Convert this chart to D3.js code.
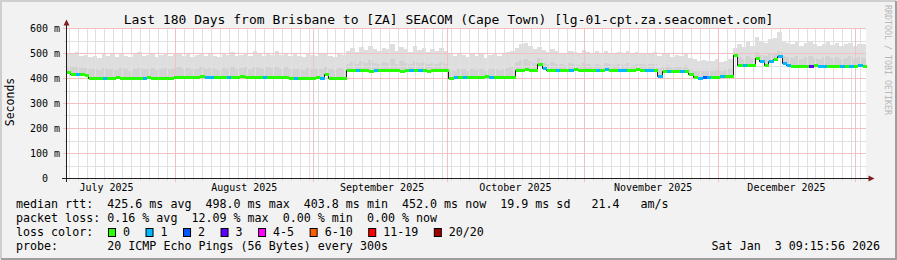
<!DOCTYPE html>
<html lang="en">
<head>
<meta charset="utf-8">
<style>
    body { margin: 0; background: #f2f2f2; overflow: hidden; }
    svg { display: block; }
    text { font-family: "DejaVu Sans Mono", monospace; white-space: pre; }
</style>
</head>
<body>
<svg width="897" height="260"></svg>
<script src="https://cdn.jsdelivr.net/npm/d3@7/dist/d3.min.js"></script>
<script>
    // one sample per day, 180 days (ms)
    const medianRtt = [
        425, 416, 415, 415, 414, 402, 402, 401, 402, 402,
        402, 403, 402, 402, 401, 402, 402, 402, 403, 402,
        402, 402, 401, 402, 406, 406, 405, 406, 406, 406,
        407, 406, 406, 406, 405, 406, 406, 406, 406, 407,
        406, 406, 406, 406, 405, 406, 406, 406, 406, 406,
        402, 402, 401, 402, 402, 402, 403, 402, 418, 402,
        401, 402, 402, 431, 431, 432, 431, 431, 430, 431,
        431, 432, 431, 431, 431, 430, 431, 432, 431, 431,
        431, 430, 431, 432, 431, 431, 400, 404, 405, 405,
        405, 405, 404, 405, 408, 405, 405, 405, 405, 405,
        405, 433, 433, 434, 433, 433, 456, 440, 433, 433,
        433, 432, 433, 433, 434, 433, 433, 432, 433, 433,
        433, 434, 433, 432, 433, 433, 433, 433, 434, 433,
        433, 433, 432, 409, 428, 428, 429, 428, 428, 428,
        415, 404, 402, 403, 403, 405, 406, 409, 409, 409,
        492, 452, 452, 452, 453, 480, 468, 452, 470, 478,
        486, 462, 452, 450, 450, 449, 450, 450, 452, 450,
        450, 449, 450, 450, 450, 449, 450, 450, 451, 450
    ];
    // lost pings out of 20
    const lossCount = [
        0, 0, 1, 0, 0, 0, 0, 0, 1, 0,
        0, 0, 0, 0, 0, 0, 0, 1, 0, 0,
        0, 0, 0, 0, 0, 0, 0, 0, 0, 0,
        0, 1, 1, 0, 0, 0, 1, 0, 0, 0,
        0, 0, 0, 0, 1, 0, 0, 0, 0, 0,
        0, 1, 0, 0, 0, 0, 0, 1, 0, 0,
        0, 0, 0, 0, 0, 1, 0, 0, 0, 1,
        0, 0, 0, 0, 0, 0, 0, 1, 0, 1,
        0, 0, 0, 0, 0, 0, 0, 1, 0, 1,
        0, 0, 0, 0, 0, 1, 0, 0, 0, 0,
        0, 0, 0, 0, 0, 0, 0, 1, 0, 0,
        1, 0, 0, 1, 0, 0, 0, 0, 0, 1,
        0, 1, 0, 0, 1, 1, 0, 0, 0, 0,
        1, 1, 0, 1, 0, 1, 0, 0, 1, 0,
        0, 0, 1, 2, 1, 0, 0, 1, 0, 0,
        0, 0, 1, 0, 0, 0, 1, 0, 1, 0,
        1, 1, 1, 0, 0, 0, 0, 3, 0, 1,
        1, 0, 0, 0, 1, 0, 1, 0, 1, 0
    ];
    // top of the smoke (slowest pings)
    const smokeMax = [
        500, 495, 505, 488, 492, 485, 490, 482, 498, 488,
        495, 485, 500, 490, 483, 495, 505, 488, 492, 498,
        485, 494, 500, 488, 496, 502, 490, 497, 485, 492,
        500, 488, 495, 490, 483, 498, 492, 505, 487, 494,
        500, 490, 508, 496, 488, 502, 494, 510, 492, 500,
        488, 495, 490, 485, 498, 492, 488, 495, 500, 490,
        485, 498, 492, 510, 520, 505, 525, 512, 530, 518,
        508, 522, 515, 535, 510, 525, 518, 505, 528, 512,
        520, 505, 515, 510, 522, 508, 495, 488, 500, 492,
        485, 498, 490, 495, 480, 492, 500, 488, 495, 505,
        510, 520, 535, 540, 528, 515, 525, 512, 505, 518,
        508, 500, 495, 510, 505, 498, 512, 505, 500, 508,
        495, 510, 502, 498, 505, 500, 510, 498, 505, 500,
        495, 500, 505, 490, 495, 500, 485, 492, 488, 498,
        480, 475, 470, 472, 468, 470, 478, 465, 470, 475,
        520, 535, 525, 545, 530, 565, 548, 540, 555, 560,
        585, 550, 540, 535, 545, 530, 540, 548, 535, 530,
        538, 545, 532, 540, 528, 535, 542, 530, 538, 535
    ];
    // top of the dense part of the smoke
    const smokeMid = [
        450, 445, 448, 442, 440, 435, 438, 432, 440, 436,
        438, 432, 440, 435, 430, 437, 442, 434, 436, 440,
        432, 438, 440, 434, 440, 445, 436, 442, 434, 438,
        444, 436, 440, 437, 432, 442, 438, 446, 435, 440,
        444, 438, 448, 440, 436, 445, 440, 450, 438, 444,
        434, 438, 436, 432, 440, 436, 434, 438, 445, 435,
        432, 440, 436, 458, 465, 455, 468, 460, 472, 462,
        456, 466, 460, 475, 458, 468, 462, 455, 470, 460,
        465, 455, 462, 458, 466, 456, 432, 430, 438, 434,
        430, 436, 432, 435, 428, 434, 438, 432, 436, 440,
        445, 465, 472, 478, 468, 462, 480, 462, 458, 465,
        458, 455, 452, 460, 456, 452, 460, 456, 454, 458,
        452, 460, 455, 452, 456, 454, 460, 452, 456, 455,
        452, 455, 458, 440, 450, 452, 445, 448, 446, 452,
        438, 430, 428, 430, 427, 428, 432, 430, 432, 435,
        500, 485, 478, 490, 482, 505, 492, 488, 496, 502,
        510, 490, 485, 480, 488, 478, 485, 490, 482, 478,
        484, 488, 480, 485, 476, 482, 486, 478, 484, 480
    ];

    const yTicks = [0, 100, 200, 300, 400, 500, 600];
    const lossLabels = ["0", "1", "2", "3", "4-5", "6-10", "11-19", "20/20"];
    const lossColors = ["#26ff00", "#00b8ff", "#0059ff", "#5e00ff", "#ff00ff", "#ff5e00", "#ff0000", "#a10000"];
    const lossUpper = [0, 1, 2, 3, 5, 10, 19, 20];

    const titleText = "Last 180 Days from Brisbane to [ZA] SEACOM (Cape Town) [lg-01-cpt.za.seacomnet.com]";
    const legendRtt = "median rtt:  425.6 ms avg  498.0 ms max  403.8 ms min  452.0 ms now  19.9 ms sd   21.4   am/s";
    const legendLoss = "packet loss: 0.16 % avg  12.09 % max  0.00 % min  0.00 % now";
    const probeText = "20 ICMP Echo Pings (56 Bytes) every 300s";
    const stampText = "Sat Jan  3 09:15:56 2026";

    const W = 897, H = 260;
    const svg = d3.select("svg");
    const DAY = 864e5;
    const endTime = Date.UTC(2026, 0, 3, 9, 15, 56);
    const startTime = endTime - 180 * DAY;

    const x = d3.scaleUtc().domain([startTime, endTime]).range([66, 866]);
    const y = d3.scaleLinear().domain([0, 600]).range([178, 28]);
    const t = i => startTime + i * DAY;
    const px = v => Math.round(v);

    // frame
    svg.append("rect").attr("width", W).attr("height", H).attr("fill", "#f2f2f2");
    svg.append("path").attr("d", `M1,${H - 1} V1 H${W - 1}`).attr("fill", "none")
        .attr("stroke", "#cfcfcf").attr("stroke-width", 2);
    svg.append("path").attr("d", `M1,${H - 1} H${W - 1} V1`).attr("fill", "none")
        .attr("stroke", "#9e9e9e").attr("stroke-width", 2);

    // canvas
    svg.append("rect").attr("x", 66).attr("y", 28).attr("width", 800).attr("height", 150).attr("fill", "#fff");

    /************************************************************
    * Smoke
    ************************************************************/
    const idx = d3.range(medianRtt.length);
    const xl = i => px(x(t(i)));
    const smoke = svg.append("g").attr("shape-rendering", "crispEdges");
    smoke.selectAll(".outer").data(idx).enter().append("rect")
        .attr("x", xl).attr("width", i => xl(i + 1) - xl(i))
        .attr("y", i => px(y(smokeMax[i]))).attr("height", i => px(y(medianRtt[i] - 3)) - px(y(smokeMax[i])))
        .attr("fill", "#dedede");
    smoke.selectAll(".inner").data(idx).enter().append("rect")
        .attr("x", xl).attr("width", i => xl(i + 1) - xl(i))
        .attr("y", i => px(y(smokeMid[i]))).attr("height", i => px(y(medianRtt[i] - 2)) - px(y(smokeMid[i])))
        .attr("fill", "#d2d2d2");

    /************************************************************
    * Grid
    ************************************************************/
    const minorDays = d3.utcDay.range(startTime, endTime).filter(d => Math.round(d / DAY) % 2 === 1);
    const majorMonths = d3.utcMonth.range(startTime, endTime);
    const hMinor = d3.range(50, 601, 100);

    const grid = svg.append("g").attr("shape-rendering", "crispEdges").attr("stroke-width", 1);
    grid.selectAll(".vmin").data(minorDays).enter().append("line")
        .attr("x1", d => px(x(d)) + 0.5).attr("x2", d => px(x(d)) + 0.5)
        .attr("y1", 28).attr("y2", 181).attr("stroke", "#e0e0e0");
    grid.selectAll(".hmin").data(hMinor).enter().append("line")
        .attr("x1", 64).attr("x2", 866)
        .attr("y1", d => px(y(d)) + 0.5).attr("y2", d => px(y(d)) + 0.5).attr("stroke", "#e0e0e0");
    grid.selectAll(".vmaj").data(majorMonths).enter().append("line")
        .attr("x1", d => px(x(d)) + 0.5).attr("x2", d => px(x(d)) + 0.5)
        .attr("y1", 28).attr("y2", 182).attr("stroke", "#f2c0c0");
    grid.selectAll(".hmaj").data(yTicks.slice(1)).enter().append("line")
        .attr("x1", 63).attr("x2", 866)
        .attr("y1", d => px(y(d)) + 0.5).attr("y2", d => px(y(d)) + 0.5).attr("stroke", "#f2c0c0");

    /************************************************************
    * Median, coloured by loss
    ************************************************************/
    const lossIndex = n => lossUpper.findIndex(u => n <= u);
    const medLine = d3.line().curve(d3.curveStepAfter).x(d => px(x(d[0])) + 0.5).y(d => px(y(d[1])) + 0.5);
    const medPts = idx.map(i => [t(i), medianRtt[i]]);
    medPts.push([endTime, medianRtt[medianRtt.length - 1]]);
    svg.append("path").attr("d", medLine(medPts)).attr("fill", "none")
        .attr("stroke", "#202020").attr("stroke-width", 1);
    svg.append("g").attr("shape-rendering", "crispEdges")
        .selectAll("rect").data(idx).enter().append("rect")
        .attr("x", i => xl(i) + 1).attr("width", i => xl(i + 1) - xl(i))
        .attr("y", i => px(y(medianRtt[i])) - 1).attr("height", 3)
        .attr("fill", i => lossColors[lossIndex(lossCount[i])]);

    /************************************************************
    * Axes
    ************************************************************/
    const axisCol = "#1f1f1f", arrowCol = "#801f1f";
    svg.append("line").attr("x1", 66.5).attr("x2", 66.5).attr("y1", 182).attr("y2", 24)
        .attr("stroke", axisCol);
    svg.append("line").attr("x1", 62).attr("x2", 870).attr("y1", 178.5).attr("y2", 178.5)
        .attr("stroke", axisCol);
    svg.append("path").attr("d", "M63.5,25.5 L69.5,25.5 L66.5,19.5 Z").attr("fill", arrowCol);
    svg.append("path").attr("d", "M868.5,175.5 L868.5,181.5 L874.5,178.5 Z").attr("fill", arrowCol);

    svg.append("g").selectAll("text").data(yTicks).enter().append("text")
        .attr("x", d => d === 0 ? 48 : 60).attr("y", d => y(d) + 3.5)
        .attr("text-anchor", "end").attr("font-size", 10).attr("fill", "#000")
        .text(d => d === 0 ? "0" : `${d} m`);

    const fmtMonth = d3.utcFormat("%B %Y");
    const monthMids = d3.utcMonth.range(d3.utcMonth.floor(startTime), endTime)
        .map(m => new Date(+m + 15.5 * DAY))
        .filter(m => x(m) > 66 && x(m) < 866);
    svg.append("g").selectAll("text").data(monthMids).enter().append("text")
        .attr("x", d => x(d)).attr("y", 191)
        .attr("text-anchor", "middle").attr("font-size", 10)
        .text(d => fmtMonth(new Date(+d - 15.5 * DAY)));

    svg.append("text").attr("transform", "translate(14,102) rotate(-90)")
        .attr("text-anchor", "middle").attr("font-size", 11.5).text("Seconds");

    svg.append("text").attr("x", 448.5).attr("y", 24).attr("text-anchor", "middle")
        .attr("font-size", 13).text(titleText);

    svg.append("text").attr("transform", "translate(885,5) rotate(90)")
        .attr("font-size", 8.3).attr("fill", "#b8b8b8").text("RRDTOOL / TOBI OETIKER");

    /************************************************************
    * Legend
    ************************************************************/
    const fs = 11.66, cw = fs * 0.602;
    const legend = svg.append("g").attr("font-size", fs);
    legend.append("text").attr("x", 16).attr("y", 208).text(legendRtt);
    legend.append("text").attr("x", 16).attr("y", 222).text(legendLoss);
    legend.append("text").attr("x", 16).attr("y", 236).text("loss color:");
    legend.append("text").attr("x", 16).attr("y", 250).text("probe:");
    legend.append("text").attr("x", 16 + 13 * cw).attr("y", 250).text(probeText);
    legend.append("text").attr("x", 880).attr("y", 250).attr("text-anchor", "end").text(stampText);

    let bx = 108;
    lossLabels.forEach((lab, i) => {
        legend.append("rect").attr("x", bx + 0.5).attr("y", 228.5).attr("width", 7).attr("height", 8)
            .attr("fill", lossColors[i]).attr("stroke", "#000").attr("stroke-width", 1);
        legend.append("text").attr("x", bx + 15).attr("y", 236).text(lab);
        bx = bx + 15 + lab.length * cw + 15.5;
    });
</script>
</body>
</html>
